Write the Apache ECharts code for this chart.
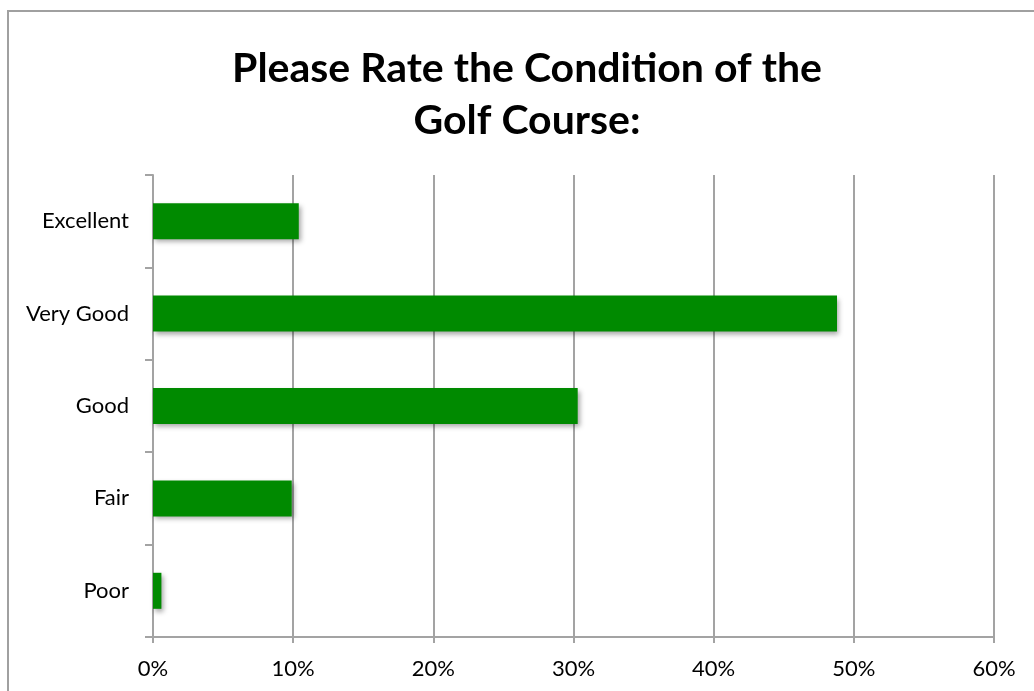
<!DOCTYPE html>
<html>
<head>
<meta charset="utf-8">
<script src="https://cdn.jsdelivr.net/npm/echarts@6/dist/echarts.min.js"></script>
<style>
html,body{margin:0;padding:0;background:#fff;}
#chart{width:1034px;height:691px;}
</style>
</head>
<body>
<div id="chart"></div>
<script>
var categories = ['Excellent', 'Very Good', 'Good', 'Fair', 'Poor'];
var values = [10.4, 48.8, 30.3, 9.9, 0.6];
var xTicks = [0, 10, 20, 30, 40, 50, 60];
var titleText = 'Please Rate the Condition of the\nGolf Course:';

var chart = echarts.init(document.getElementById('chart'));
var axisGray = '#a3a3a3';
chart.setOption({
  animation: false,
  backgroundColor: '#ffffff',
  graphic: [
    {
      type: 'rect',
      shape: { x: 8, y: 11, width: 1100, height: 800 },
      style: { fill: 'none', stroke: '#a0a0a0', lineWidth: 2 },
      silent: true
    },
    {
      type: 'text',
      x: 527,
      y: 43,
      style: {
        text: titleText,
        fontFamily: 'Lato',
        fontWeight: 'bold',
        fontSize: 41,
        lineHeight: 52,
        fill: '#000',
        textAlign: 'center',
        textVerticalAlign: 'top'
      }
    }
  ],
  grid: { left: 153, right: 40, top: 175, bottom: 54, containLabel: false },
  xAxis: {
    type: 'value',
    min: xTicks[0],
    max: xTicks[xTicks.length - 1],
    interval: 10,
    axisLine: { show: true, lineStyle: { color: axisGray, width: 2 } },
    axisTick: { show: true, length: 6, lineStyle: { color: axisGray, width: 2 } },
    splitLine: { show: true, lineStyle: { color: axisGray, width: 2 } },
    axisLabel: {
      formatter: '{value}%',
      color: '#000',
      fontFamily: 'Lato',
      fontSize: 22,
      margin: 21
    }
  },
  yAxis: {
    type: 'category',
    data: categories,
    inverse: true,
    axisLine: { show: true, lineStyle: { color: axisGray, width: 2 } },
    axisTick: { show: true, length: 8, lineStyle: { color: axisGray, width: 2 } },
    axisLabel: {
      color: '#000',
      fontFamily: 'Lato',
      fontSize: 22,
      margin: 24,
      padding: [5, 0, 0, 0]
    },
    splitLine: { show: false }
  },
  series: [{
    type: 'bar',
    data: values,
    barWidth: '39%',
    itemStyle: {
      color: '#008a00',
      shadowColor: 'rgba(0,0,0,0.35)',
      shadowBlur: 5,
      shadowOffsetX: 2,
      shadowOffsetY: 3
    }
  }]
});
</script>
</body>
</html>
